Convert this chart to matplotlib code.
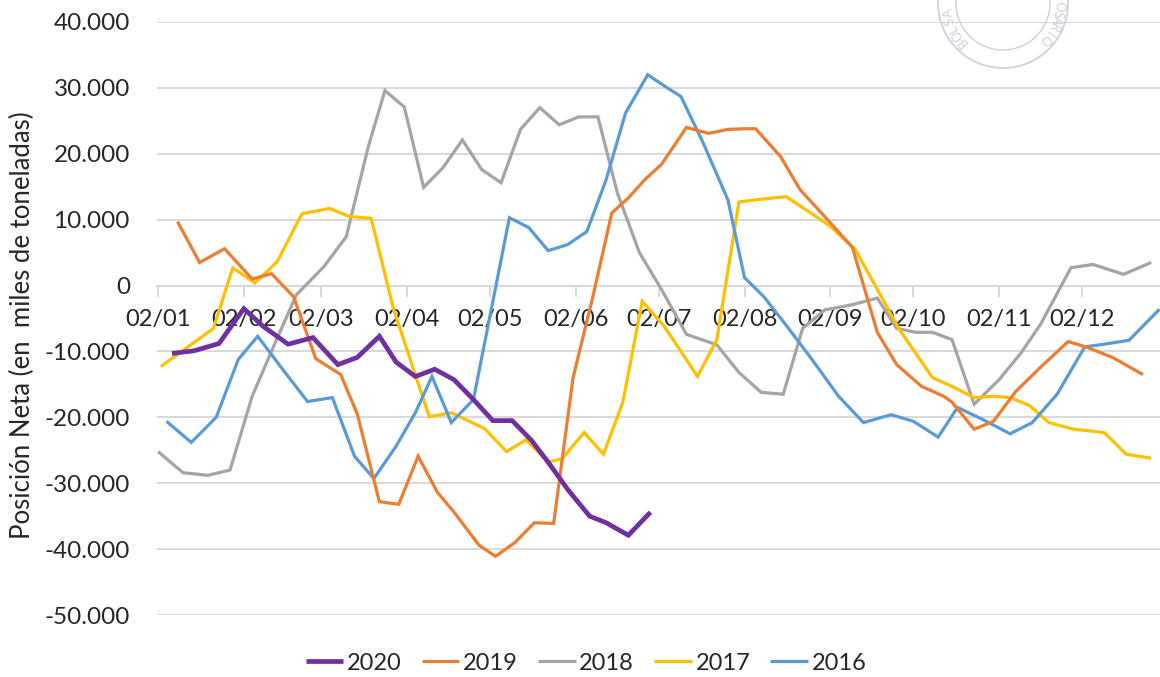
import math
import matplotlib
matplotlib.use("Agg")
import matplotlib.pyplot as plt
import pandas as pd
from matplotlib.patches import Ellipse
from matplotlib.ticker import FuncFormatter, FixedLocator

# ---------------- data (x = days after 2 January, common calendar axis) ----------------
days_2020 = [5, 13, 22, 31, 38, 47, 56, 65, 72, 80, 86, 93, 100, 107, 114, 121, 128,
             135, 141, 148, 156, 162, 170, 178]
pos_2020 = [-10300, -9900, -8800, -3500, -6200, -8900, -7900, -12000, -10900, -7700,
            -11600, -13800, -12700, -14300, -17300, -20500, -20500, -23500, -26800,
            -30900, -35000, -36000, -37900, -34400]

days_2019 = [7, 15, 24, 34, 41, 49, 57, 66, 72, 80, 87, 94, 101, 107, 116, 122, 129, 136,
             143, 150, 157, 164, 170, 176, 182, 191, 199, 206, 212, 216, 225, 232, 242,
             251, 260, 267, 276, 284, 287, 295, 302, 310, 319, 329, 336, 345, 356]
pos_2019 = [9700, 3500, 5600, 1000, 1800, -1700, -11100, -13500, -19500, -32800, -33200,
            -25900, -31400, -34400, -39400, -41100, -39000, -36000, -36100, -14000, -2000,
            11000, 13300, 16100, 18400, 24000, 23100, 23700, 23800, 23800, 19600, 14600,
            10000, 5800, -7100, -12000, -15300, -16800, -17700, -21800, -20600, -16100,
            -12400, -8500, -9400, -10900, -13500]

days_2018 = [0, 9, 18, 26, 34, 42, 50, 60, 68, 76, 82, 89, 96, 103, 110, 117, 124, 131,
             138, 145, 152, 159, 166, 174, 182, 191, 202, 210, 218, 226, 233, 241, 251,
             260, 267, 274, 280, 287, 295, 304, 312, 319, 330, 338, 349, 359]
pos_2018 = [-25200, -28400, -28800, -28000, -16800, -9000, -1400, 2900, 7400, 21100,
            29600, 27100, 14900, 17900, 22100, 17600, 15600, 23700, 27000, 24400, 25600,
            25600, 14100, 5000, -600, -7400, -9000, -13200, -16200, -16500, -6500, -3700,
            -2900, -1900, -6500, -7100, -7100, -8200, -18000, -14300, -10200, -5900, 2700,
            3200, 1700, 3500]

days_2017 = [1, 20, 27, 35, 43, 52, 62, 69, 77, 85, 92, 98, 106, 112, 118, 126, 133, 141,
             146, 154, 161, 168, 175, 183, 195, 202, 210, 218, 227, 236, 243, 252, 262,
             268, 280, 287, 295, 302, 308, 315, 322, 331, 342, 350, 359]
pos_2017 = [-12300, -6500, 2700, 400, 3600, 10900, 11700, 10500, 10200, -3400, -12300,
            -19900, -19300, -20500, -21700, -25200, -23400, -26800, -26300, -22300, -25600,
            -17700, -2400, -6200, -13800, -8200, 12700, 13100, 13500, 11000, 9000, 5500,
            -2100, -6700, -14000, -15300, -17000, -16800, -17000, -18200, -20800, -21800,
            -22300, -25600, -26200]

days_2016 = [3, 12, 21, 29, 36, 45, 54, 63, 71, 78, 86, 93, 99, 106, 114, 127, 134, 141,
             148, 155, 162, 169, 177, 183, 189, 197, 206, 212, 219, 227, 236, 246, 255,
             265, 273, 282, 289, 298, 308, 316, 325, 335, 342, 351, 362]
pos_2016 = [-20600, -23800, -20000, -11200, -7700, -12700, -17600, -17000, -25900, -29300,
            -24400, -19300, -13800, -20800, -17300, 10300, 8800, 5300, 6200, 8200, 16100,
            26200, 32000, 30300, 28700, 21700, 13000, 1200, -1700, -6000, -11000, -16800,
            -20800, -19600, -20600, -23000, -18500, -20300, -22500, -20800, -16500, -9300,
            -8900, -8300, -3600]

series_names = ["2020", "2019", "2018", "2017", "2016"]
month_labels = ["02/01", "02/02", "02/03", "02/04", "02/05", "02/06",
                "02/07", "02/08", "02/09", "02/10", "02/11", "02/12"]
y_ticks = [40000, 30000, 20000, 10000, 0, -10000, -20000, -30000, -40000, -50000]
y_title = "Posición Neta (en  miles de toneladas)"

# ---------------- style ----------------
plt.rcParams["font.family"] = ["Lato", "DejaVu Sans"]
colors = {"2020": "#7030A0", "2019": "#ED7D31", "2018": "#A5A5A5",
          "2017": "#FFC000", "2016": "#5B9BD5"}
widths = {"2020": 3.4, "2019": 2.3, "2018": 2.3, "2017": 2.3, "2016": 2.3}
zord = {"2020": 7, "2019": 6, "2018": 3, "2017": 4, "2016": 5}
text_color = "#262626"
grid_color = "#D9D9D9"

W, H = 1160, 677
fig = plt.figure(figsize=(W / 100, H / 100), dpi=100)
ax = fig.add_axes([157 / W, 62 / H, (W - 157) / W, (615 - 22) / H])

data = {"2020": (days_2020, pos_2020), "2019": (days_2019, pos_2019),
        "2018": (days_2018, pos_2018), "2017": (days_2017, pos_2017),
        "2016": (days_2016, pos_2016)}
handles = []
for name in series_names:
    xs, ys = data[name]
    (h,) = ax.plot(xs, ys, color=colors[name], lw=widths[name], label=name,
                   zorder=zord[name], solid_joinstyle="miter", solid_capstyle="butt")
    handles.append(h)

ax.set_ylim(-50000, 40000)
ax.set_xlim(-0.4, 362.2)
ax.yaxis.set_major_locator(FixedLocator(y_ticks))
ax.yaxis.set_major_formatter(FuncFormatter(lambda v, p: f"{v:,.0f}".replace(",", ".")))

base = pd.Timestamp(2019, 1, 2)
tick_days = [(pd.Timestamp(2019, m, 2) - base).days for m in range(1, 13)]
ax.set_xticks(tick_days)
ax.set_xticklabels(month_labels)

for s in ["top", "right", "left"]:
    ax.spines[s].set_visible(False)
ax.spines["bottom"].set_position(("data", 0))
ax.spines["bottom"].set_color(grid_color)
ax.spines["bottom"].set_linewidth(1.4)
ax.spines["bottom"].set_zorder(1)

ax.yaxis.grid(True, color=grid_color, lw=1.4)
ax.set_axisbelow(True)
ax.tick_params(axis="x", direction="out", length=8, width=1.4, color=grid_color,
               labelsize=17, labelcolor=text_color, pad=9)
ax.tick_params(axis="y", length=0, labelsize=17.5, labelcolor=text_color, pad=19.5)

fig.text(22 / W, 1 - 325 / H, y_title, rotation=90, ha="center", va="center",
         fontsize=18.5, color=text_color)

leg = fig.legend(handles=handles, labels=series_names, loc="center",
                 bbox_to_anchor=(586 / W, 1 - 663 / H), ncol=5, frameon=False,
                 fontsize=17, handlelength=1.6, handletextpad=0.15,
                 columnspacing=0.85, borderaxespad=0)
for t in leg.get_texts():
    t.set_color(text_color)

# faint institutional seal (watermark) at top right
seal_col = "#CDD1DC"
scx, scy, R = 1003, 3, 65
fig.add_artist(Ellipse((scx / W, 1 - scy / H), 2 * R / W, 2 * R / H,
                       fill=False, ec=seal_col, lw=1.3))
fig.add_artist(Ellipse((scx / W, 1 - scy / H), 2 * 47 / W, 2 * 47 / H,
                       fill=False, ec=seal_col, lw=1.0))
seal_words = [("BOLSA", 224, -8.5), ("ROSARIO", 4, -7.5)]
for word, phi0, step in seal_words:
    for i, ch in enumerate(word):
        phi = phi0 + step * i
        px = scx + 56 * math.cos(math.radians(phi))
        py = scy - 56 * math.sin(math.radians(phi))
        if py < 6:
            continue
        fig.text(px / W, 1 - py / H, ch, fontsize=9, color=seal_col, ha="center",
                 va="center", rotation=phi - 90, rotation_mode="anchor")

fig.savefig("out.png", dpi=100)
